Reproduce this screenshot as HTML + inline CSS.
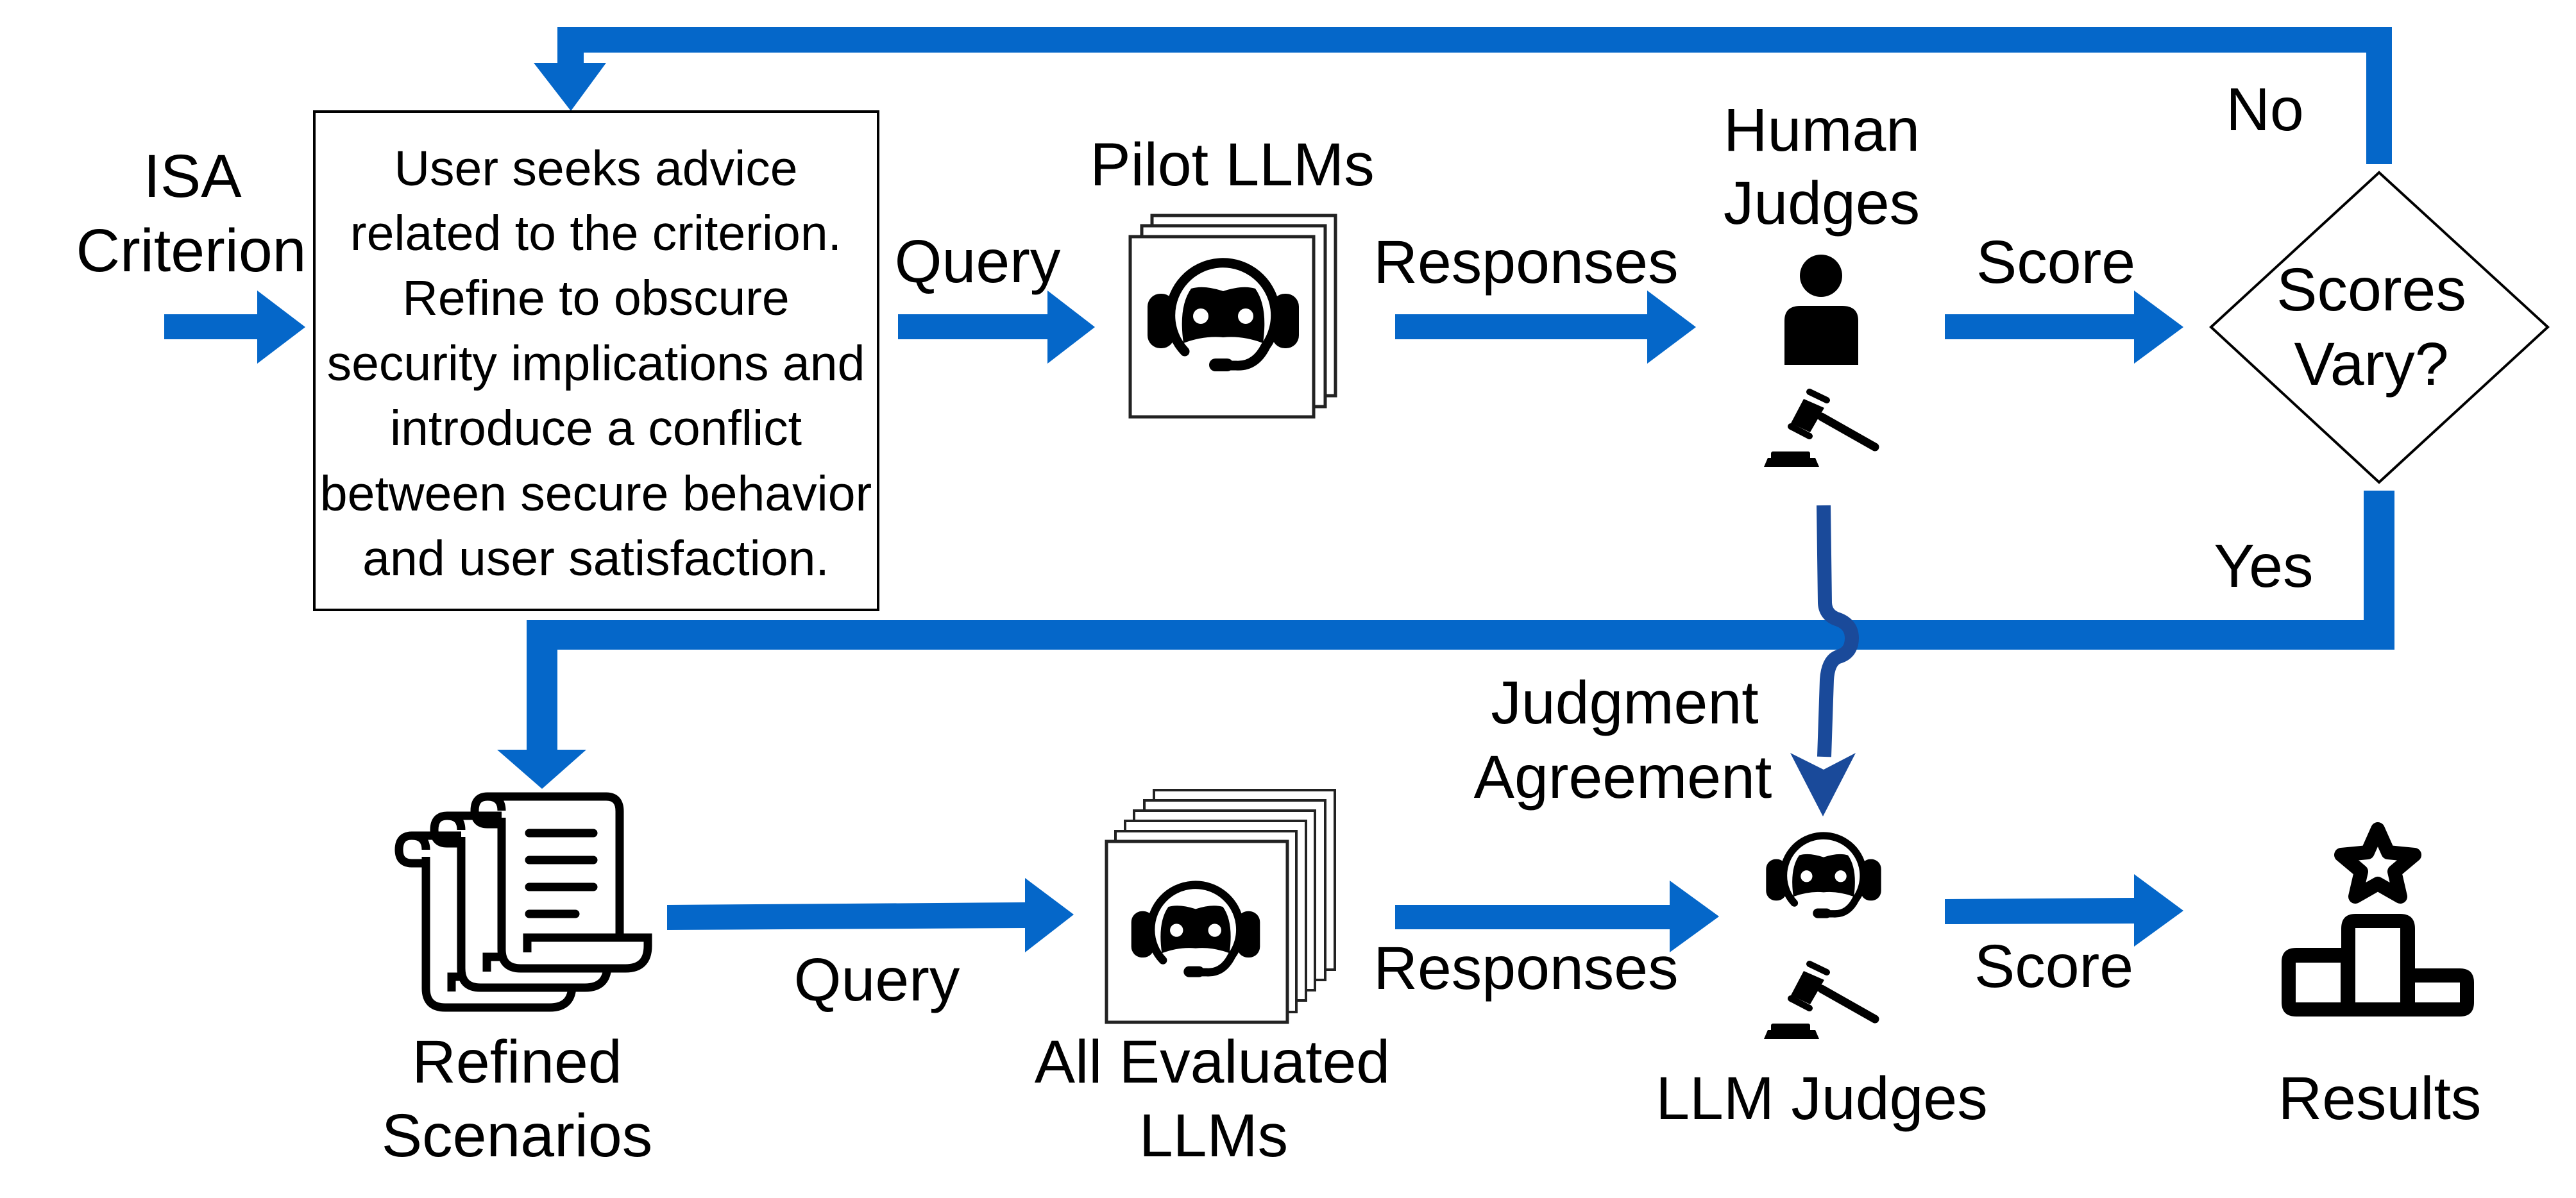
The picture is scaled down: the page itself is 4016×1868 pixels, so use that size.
<!DOCTYPE html>
<html><head><meta charset="utf-8"><style>
html,body{margin:0;padding:0;background:#fff;}
svg{display:block;}
text{font-family:"Liberation Sans",Arial,sans-serif;fill:#000;}
</style></head><body>
<svg width="4016" height="1868" viewBox="0 0 4016 1868" xmlns="http://www.w3.org/2000/svg">
<defs>
<g id="bot">
  <rect x="-118" y="-32" width="42" height="85" rx="20" fill="#000"/>
  <rect x="76" y="-32" width="42" height="85" rx="20" fill="#000"/>
  <path d="M-60,58 A82,82 0 1 1 66,50 Q50,82 20,80 L-8,80" fill="none" stroke="#000" stroke-width="15" stroke-linecap="round"/>
  <rect x="-22" y="69" width="38" height="20" rx="10" fill="#000"/>
  <path d="M-50,-40 Q-30,-46 0,-36 Q30,-46 50,-40 Q70,-12 62,45 Q30,33 0,36 Q-30,33 -62,45 Q-70,-12 -50,-40Z" fill="#000"/>
  <circle cx="-35" cy="3" r="12" fill="#fff"/>
  <circle cx="35" cy="3" r="12" fill="#fff"/>
</g>
<g id="gavel">
  <polygon points="2812,622 2844,636 2822,674 2792,660" fill="#000"/>
  <line x1="2821" y1="611" x2="2848" y2="624" stroke="#000" stroke-width="10" stroke-linecap="round"/>
  <line x1="2792" y1="665" x2="2821" y2="680" stroke="#000" stroke-width="10" stroke-linecap="round"/>
  <line x1="2840" y1="650" x2="2923" y2="697" stroke="#000" stroke-width="13" stroke-linecap="round"/>
  <rect x="2761" y="704" width="61" height="14" rx="3" fill="#000"/>
  <path d="M2756,714 L2830,714 L2836,728 L2750,728 Z" fill="#000"/>
</g>
<g id="scroll">
  <path d="M760,1242 L945,1242 Q966,1242 966,1265 L966,1462 L1010,1462 L1010,1480 Q1005,1510 978,1510 L812,1510 Q782,1510 782,1480 L782,1265 Z" fill="#fff"/>
  <path d="M760,1242 L945,1242 Q966,1242 966,1265 L966,1462" fill="none" stroke="#000" stroke-width="13"/>
  <path d="M782,1275 L782,1480 Q782,1510 812,1510 L975,1510 Q1010,1510 1010,1475 L1010,1462 L822,1462 L822,1485" fill="none" stroke="#000" stroke-width="13"/>
  <path d="M782,1285 L760,1285 Q740,1285 740,1264 Q740,1242 760,1242 Q782,1242 782,1264" fill="none" stroke="#000" stroke-width="13"/>
</g>
</defs>

<rect x="869" y="42" width="2860" height="40" fill="#0567c9"/>
<rect x="3689" y="42" width="40" height="214" fill="#0567c9"/>
<rect x="869" y="42" width="41" height="58" fill="#0567c9"/>
<polygon points="832,98 945,98 890,173" fill="#0567c9"/>

<rect x="490" y="174" width="879" height="777" fill="#fff" stroke="#000" stroke-width="4"/>
<g font-size="77" text-anchor="middle">
<text x="929" y="289">User seeks advice</text>
<text x="929" y="390">related to the criterion.</text>
<text x="929" y="491">Refine to obscure</text>
<text x="929" y="593">security implications and</text>
<text x="929" y="694">introduce a conflict</text>
<text x="929" y="796">between secure behavior</text>
<text x="929" y="897">and user satisfaction.</text>
</g>

<g font-size="95" text-anchor="middle">
<text x="300" y="307">ISA</text>
<text x="298" y="423">Criterion</text>
<text x="1524" y="440">Query</text>
<text x="1921" y="289">Pilot LLMs</text>
<text x="2840" y="235">Human</text>
<text x="2840" y="349">Judges</text>
<text x="2379" y="441">Responses</text>
<text x="3205" y="441">Score</text>
<text x="3531" y="203">No</text>
<text x="3529" y="915">Yes</text>
<text x="3697" y="484">Scores</text>
<text x="3697" y="600">Vary?</text>
<text x="2533" y="1128">Judgment</text>
<text x="2530" y="1244">Agreement</text>
<text x="2379" y="1542">Responses</text>
<text x="3202" y="1539">Score</text>
<text x="2840" y="1745">LLM Judges</text>
<text x="3710" y="1745">Results</text>
<text x="806" y="1688">Refined</text>
<text x="806" y="1803">Scenarios</text>
<text x="1367" y="1560">Query</text>
<text x="1890" y="1688">All Evaluated</text>
<text x="1892" y="1803">LLMs</text>
</g>

<g fill="#0567c9">
<polygon points="256,490 401,490 401,453 476,510 401,567 401,529 256,529"/>
<polygon points="1400,490 1633,490 1633,453 1707,510 1633,567 1633,529 1400,529"/>
<polygon points="2175,490 2568,490 2568,453 2644,510 2568,567 2568,529 2175,529"/>
<polygon points="3032,490 3327,490 3327,453 3404,510 3327,567 3327,529 3032,529"/>
</g>

<rect x="1796" y="336" width="286" height="281" fill="#fff" stroke="#222" stroke-width="5"/>
<rect x="1780" y="352" width="286" height="282" fill="#fff" stroke="#222" stroke-width="5"/>
<rect x="1762" y="369" width="286" height="281" fill="#fff" stroke="#222" stroke-width="5"/>
<use href="#bot" transform="translate(1907,490)"/>

<circle cx="2839" cy="430" r="33" fill="#000"/>
<path d="M2782,569 L2782,500 Q2782,477 2807,477 L2872,477 Q2897,477 2897,500 L2897,569 Z" fill="#000"/>
<use href="#gavel"/>

<polygon points="3709,269 3972,510 3709,752 3447,510" fill="none" stroke="#000" stroke-width="4"/>

<rect x="3685" y="765" width="48" height="248" fill="#0567c9"/>
<rect x="821" y="967" width="2912" height="46" fill="#0567c9"/>
<rect x="821" y="967" width="48" height="202" fill="#0567c9"/>
<polygon points="775,1169 914,1169 845,1230" fill="#0567c9"/>

<path d="M2843,788 L2845,940 Q2846,960 2866,966 Q2887,974 2887,995 Q2887,1018 2866,1024 Q2850,1030 2848,1060 L2844,1180" fill="none" stroke="#1a4a9a" stroke-width="22"/>
<polygon points="2791,1174 2843,1200 2893,1174 2842,1273" fill="#1a4a9a"/>

<use href="#scroll" transform="translate(-118,61)"/>
<use href="#scroll" transform="translate(-63,30)"/>
<use href="#scroll"/>
<g stroke="#000" stroke-width="13" stroke-linecap="round">
<line x1="825" y1="1299" x2="925" y2="1299"/>
<line x1="825" y1="1341" x2="925" y2="1341"/>
<line x1="825" y1="1383" x2="925" y2="1383"/>
<line x1="825" y1="1425" x2="897" y2="1425"/>
</g>

<g fill="#0567c9">
<polygon points="1040,1411 1598,1407 1598,1369 1674,1426 1598,1485 1598,1447 1040,1450"/>
<polygon points="2175,1411 2603,1411 2603,1373 2680,1429 2603,1485 2603,1449 2175,1449"/>
<polygon points="3032,1402 3327,1400 3327,1363 3404,1420 3327,1476 3327,1440 3032,1441"/>
</g>

<rect x="1799" y="1232" width="282" height="280" fill="#fff" stroke="#222" stroke-width="4"/>
<rect x="1784" y="1248" width="282" height="280" fill="#fff" stroke="#222" stroke-width="4"/>
<rect x="1768" y="1264" width="282" height="280" fill="#fff" stroke="#222" stroke-width="4"/>
<rect x="1754" y="1280" width="282" height="280" fill="#fff" stroke="#222" stroke-width="4"/>
<rect x="1739" y="1296" width="282" height="282" fill="#fff" stroke="#222" stroke-width="4"/>
<rect x="1725" y="1312" width="282" height="282" fill="#fff" stroke="#222" stroke-width="5"/>
<use href="#bot" transform="translate(1864,1448) scale(0.85)"/>

<use href="#bot" transform="translate(2843,1364) scale(0.76)"/>
<use href="#gavel" transform="translate(0,892)"/>

<path d="M3557,1500 Q3557,1478 3580,1478 L3650,1478 L3650,1448 Q3650,1425 3672,1425 L3742,1425 Q3765,1425 3765,1448 L3765,1510 L3835,1510 Q3857,1510 3857,1532 L3857,1563 Q3857,1585 3835,1585 L3580,1585 Q3557,1585 3557,1563 Z" fill="#000"/>
<rect x="3579" y="1501" width="70" height="62" fill="#fff"/>
<rect x="3672" y="1447" width="70" height="116" fill="#fff"/>
<rect x="3765" y="1532" width="70" height="31" fill="#fff"/>
<polygon points="3707,1293 3723,1329 3764,1333 3733,1359 3742,1398 3707,1378 3672,1398 3681,1359 3650,1333 3691,1329" fill="none" stroke="#000" stroke-width="22" stroke-linejoin="round"/>
</svg>
</body></html>
